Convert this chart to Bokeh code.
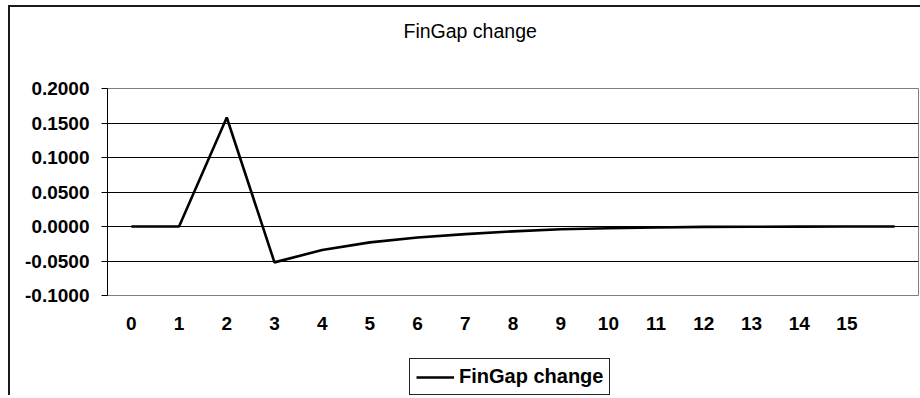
from bokeh.plotting import figure
from bokeh.layouts import column
from bokeh.models import FixedTicker, NumeralTickFormatter, Range1d, Legend, LegendItem, Title
from bokeh.embed import file_html
from bokeh.resources import INLINE

# ---- data ----
periods = list(range(17))
tick_labels = [str(i) for i in range(16)] + [""]
fingap_change = [0.0, 0.0, 0.158, -0.052, -0.034, -0.023, -0.016, -0.011,
                 -0.007, -0.004, -0.0025, -0.0015, -0.0005, -0.0003,
                 -0.0002, -0.0001, 0.0]
y_ticks = [-0.1, -0.05, 0.0, 0.05, 0.1, 0.15, 0.2]
title_text = "FinGap change"
series_name = "FinGap change"

FONT = "Liberation Sans"

# ---- main chart ----
p = figure(width=910, height=335, output_backend="svg", toolbar_location=None,
           x_range=Range1d(-0.5, 16.5), y_range=Range1d(y_ticks[0], y_ticks[-1]),
           min_border_left=97, min_border_right=2, min_border_top=81,
           min_border_bottom=47, title=None)
p.background_fill_color = "white"
p.border_fill_color = "white"
p.outline_line_color = "#808080"
p.outline_line_width = 1

# spacer title next to the frame, then the real title above it
p.add_layout(Title(text=" ", standoff=44, text_font_size="1px"), "above")
p.add_layout(Title(text=title_text, align="left", offset=296, standoff=0,
                   text_font=FONT, text_font_style="normal",
                   text_font_size="19.5px", text_color="black"), "above")

r = p.line(periods, fingap_change, line_color="black", line_width=2.6)

p.xaxis.ticker = FixedTicker(ticks=periods)
p.xaxis.major_label_overrides = {i: lab for i, lab in zip(periods, tick_labels)}
p.xaxis.axis_line_color = None
p.xaxis.major_tick_line_color = None
p.xaxis.minor_tick_line_color = None
p.xaxis.major_label_standoff = 15
p.xaxis.major_label_text_font = FONT
p.xaxis.major_label_text_font_style = "bold"
p.xaxis.major_label_text_font_size = "19px"
p.xaxis.major_label_text_color = "black"
p.xgrid.grid_line_color = None

p.yaxis.ticker = FixedTicker(ticks=y_ticks)
p.yaxis.formatter = NumeralTickFormatter(format="0.0000")
p.yaxis.axis_line_color = "black"
p.yaxis.major_tick_line_color = "black"
p.yaxis.major_tick_out = 6
p.yaxis.major_tick_in = 0
p.yaxis.minor_tick_line_color = None
p.yaxis.major_label_standoff = 12
p.yaxis.major_label_text_font = FONT
p.yaxis.major_label_text_font_style = "bold"
p.yaxis.major_label_text_font_size = "19px"
p.yaxis.major_label_text_color = "black"
p.ygrid.grid_line_color = "black"
p.ygrid.grid_line_width = 1

# ---- legend strip (same series; its values lie outside this strip's range) ----
p2 = figure(width=910, height=53, output_backend="svg", toolbar_location=None,
            x_range=Range1d(-0.5, 16.5), y_range=Range1d(1, 2),
            x_axis_type=None, y_axis_type=None,
            min_border_left=0, min_border_right=0, min_border_top=0,
            min_border_bottom=0, title=None)
p2.outline_line_color = None
p2.background_fill_color = "white"
p2.border_fill_color = "white"
p2.grid.grid_line_color = None
r2 = p2.line(periods, fingap_change, line_color="black", line_width=2.6)

legend = Legend(items=[LegendItem(label=series_name, renderers=[r2])],
                location=(302, 0))
legend.border_line_color = "#222222"
legend.border_line_alpha = 1
legend.border_line_width = 1
legend.background_fill_color = "white"
legend.background_fill_alpha = 1
legend.padding = 6
legend.margin = 0
legend.glyph_width = 38
legend.glyph_height = 20
legend.label_height = 20
legend.label_standoff = 5
legend.label_text_font = FONT
legend.label_text_font_style = "bold"
legend.label_text_font_size = "20px"
legend.label_text_color = "black"
p2.add_layout(legend, "center")

layout = column(p, p2, spacing=0)
layout.margin = (5, 0, 0, 8)
layout.styles = {"border-left": "2px solid #1a1a1a", "border-top": "2px solid #1a1a1a"}

open("out.html", "w").write(file_html(layout, INLINE))
